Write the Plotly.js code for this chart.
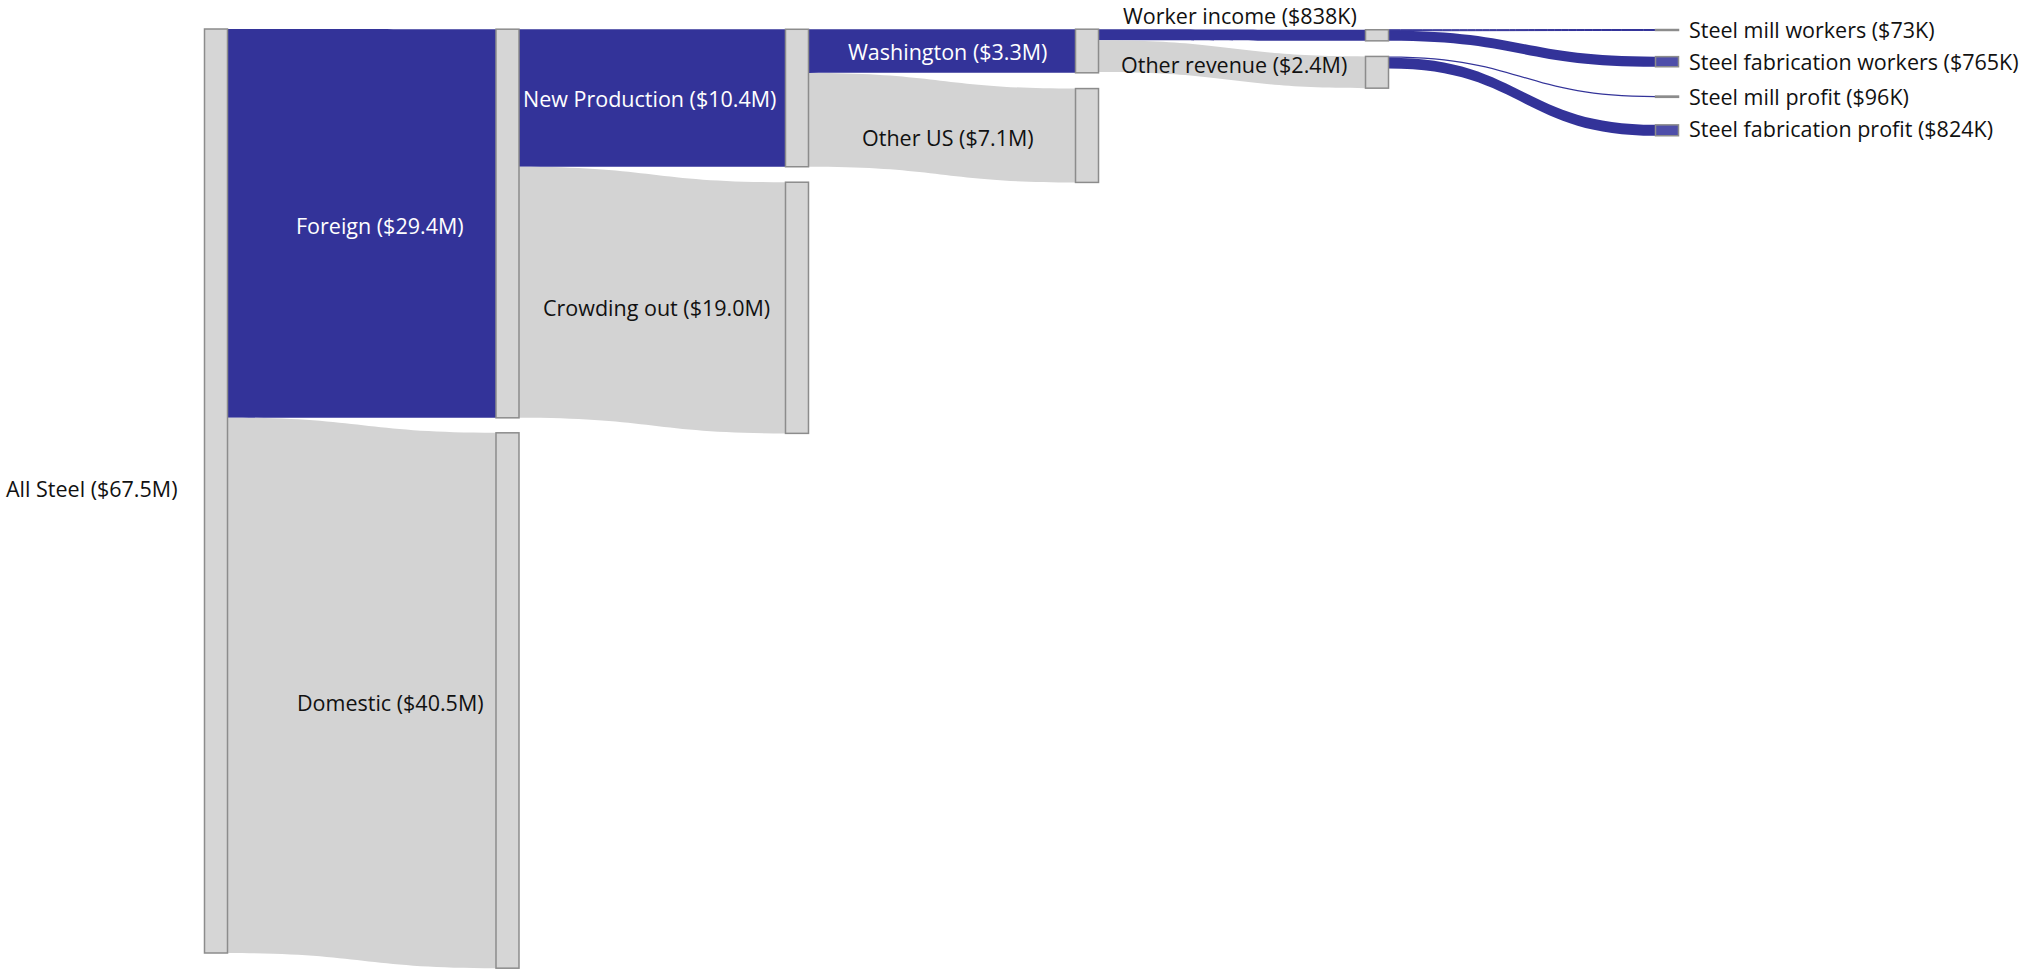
<!DOCTYPE html>
<html>
<head>
<meta charset="utf-8">
<script src="https://cdn.plot.ly/plotly-3.0.1.min.js"></script>
<style>html,body{margin:0;padding:0;background:#fff;}#chart{width:2024px;height:971px;}</style>
</head>
<body>
<div id="chart"></div>
<script>
// ---- data ----
const nodeLabels = [
  "All Steel ($67.5M)", "Foreign ($29.4M)", "Domestic ($40.5M)",
  "New Production ($10.4M)", "Crowding out ($19.0M)",
  "Washington ($3.3M)", "Other US ($7.1M)",
  "Worker income ($838K)", "Other revenue ($2.4M)",
  "Steel mill workers ($73K)", "Steel fabrication workers ($765K)",
  "Steel mill profit ($96K)", "Steel fabrication profit ($824K)"
];
const linkSource = [0, 0, 1, 1, 3, 3, 5, 5, 7, 7, 8, 8];
const linkTarget = [1, 2, 3, 4, 5, 6, 7, 8, 9, 10, 11, 12];
const linkValue  = [29.4, 40.5, 10.4, 19.0, 3.3, 7.1, 0.838, 2.4, 0.073, 0.765, 0.096, 0.824]; // $M
const linkHighlight = [true, false, true, false, true, false, true, false, true, true, true, true];

// ---- layout (node placement, normalized within the sankey domain) ----
const W = 2024, Hwin = 971;
const domTop = 29, domBottom = 953;
const nodeX = [0.10672, 0.25074, 0.25074, 0.39377, 0.39377, 0.53706, 0.53706, 0.68034, 0.68034, 0.82362, 0.82362, 0.82362, 0.82362];
const nodeY = [0.5, 0.2105, 0.72673, 0.07468, 0.30173, 0.02381, 0.11526, 0.00682, 0.04686, 0.00108, 0.03539, 0.07327, 0.10963];

// label placement in pixels: [x, y, anchor, white?]
const labelPos = [
  [180, 489, "right", false],
  [380, 225, "center", true],
  [390, 702, "center", false],
  [649, 98, "center", true],
  [656, 308, "center", false],
  [947, 52, "center", true],
  [948, 137, "center", false],
  [1240, 16, "center", false],
  [1234, 64, "center", false],
  [1687, 29, "left", false],
  [1687, 61, "left", false],
  [1687, 97, "left", false],
  [1687, 129, "left", false]
];

const BLUE = "#333399", GREY = "#d3d3d3";
const nodeColors = nodeLabels.map((_, i) => i >= 9 ? "#4e4ea9" : "#d6d6d6");
const linkColors = linkHighlight.map(h => h ? BLUE : GREY);

const trace = {
  type: "sankey",
  arrangement: "fixed",
  domain: {x: [0, 1], y: [(Hwin - domBottom) / Hwin, (Hwin - domTop) / Hwin]},
  node: {
    pad: 2,
    thickness: 23,
    line: {color: "#8c8c8c", width: 1.5},
    color: nodeColors,
    label: nodeLabels.map(() => ""),
    customdata: nodeLabels,
    hovertemplate: "%{customdata}<extra></extra>",
    x: nodeX,
    y: nodeY
  },
  link: {
    source: linkSource,
    target: linkTarget,
    value: linkValue,
    color: linkColors
  }
};

const FONT = "Segoe UI, 'Open Sans', sans-serif";
const annotations = nodeLabels.map((t, i) => ({
  text: t,
  xref: "paper", yref: "paper",
  x: labelPos[i][0] / W,
  y: 1 - labelPos[i][1] / Hwin,
  xanchor: labelPos[i][2],
  yanchor: "middle",
  showarrow: false,
  font: {family: FONT, size: 21.5, color: labelPos[i][3] ? "#ffffff" : "#111111"}
}));

const layout = {
  width: W, height: Hwin,
  margin: {l: 0, r: 0, t: 0, b: 0, pad: 0},
  paper_bgcolor: "#ffffff",
  font: {family: FONT},
  annotations: annotations
};

Plotly.newPlot("chart", [trace], layout, {displayModeBar: false, staticPlot: false});
</script>
</body>
</html>
